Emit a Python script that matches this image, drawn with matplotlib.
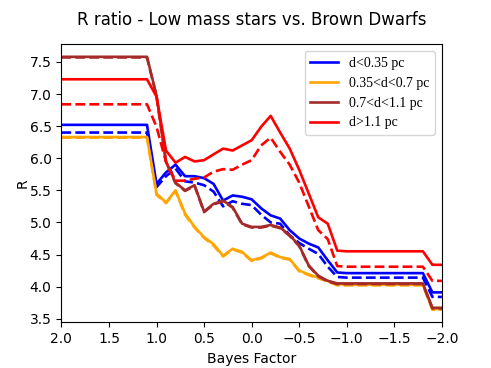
import numpy as np
import matplotlib
matplotlib.use("Agg")
import matplotlib.pyplot as plt

# Bayes factor grid (x values)
bayes = [2.0, 1.9, 1.8, 1.7, 1.6, 1.5, 1.4, 1.3, 1.2, 1.1,
         1.0, 0.9, 0.8, 0.7, 0.6, 0.5, 0.4, 0.3, 0.2, 0.1,
         0.0, -0.1, -0.2, -0.3, -0.4, -0.5, -0.6, -0.7, -0.8, -0.9,
         -1.0, -1.1, -1.2, -1.3, -1.4, -1.5, -1.6, -1.7, -1.8, -1.9, -2.0]

labels = ["d<0.35 pc", "0.35<d<0.7 pc", "0.7<d<1.1 pc", "d>1.1 pc"]
colors = ["blue", "orange", "brown", "red"]

blue_solid = [6.52, 6.52, 6.52, 6.52, 6.52, 6.52, 6.52, 6.52, 6.52, 6.52,
              5.60, 5.78, 5.90, 5.72, 5.72, 5.69, 5.60, 5.34, 5.42, 5.40,
              5.36, 5.22, 5.11, 5.06, 4.88, 4.75, 4.67, 4.61, 4.41, 4.22,
              4.21, 4.21, 4.21, 4.21, 4.21, 4.21, 4.21, 4.21, 4.21, 3.91, 3.91]
blue_dashed = [6.40, 6.40, 6.40, 6.40, 6.40, 6.40, 6.40, 6.40, 6.40, 6.40,
               5.55, 5.72, 5.84, 5.64, 5.62, 5.58, 5.48, 5.25, 5.33, 5.29,
               5.27, 5.12, 5.00, 4.98, 4.80, 4.68, 4.59, 4.51, 4.31, 4.15,
               4.14, 4.14, 4.14, 4.14, 4.14, 4.14, 4.14, 4.14, 4.14, 3.84, 3.84]
orange_solid = [6.33, 6.33, 6.33, 6.33, 6.33, 6.33, 6.33, 6.33, 6.33, 6.33,
                5.45, 5.31, 5.50, 5.14, 4.93, 4.77, 4.66, 4.48, 4.59, 4.54,
                4.41, 4.45, 4.53, 4.46, 4.43, 4.25, 4.19, 4.14, 4.09, 4.04,
                4.03, 4.03, 4.03, 4.03, 4.03, 4.03, 4.03, 4.03, 4.03, 3.65, 3.65]
orange_dashed = [6.32, 6.32, 6.32, 6.32, 6.32, 6.32, 6.32, 6.32, 6.32, 6.32,
                 5.43, 5.30, 5.49, 5.12, 4.92, 4.76, 4.64, 4.47, 4.58, 4.53,
                 4.40, 4.44, 4.52, 4.45, 4.42, 4.24, 4.18, 4.13, 4.08, 4.02,
                 4.02, 4.02, 4.02, 4.02, 4.02, 4.02, 4.02, 4.02, 4.02, 3.64, 3.64]
brown_solid = [7.58, 7.58, 7.58, 7.58, 7.58, 7.58, 7.58, 7.58, 7.58, 7.58,
               6.98, 5.95, 5.62, 5.50, 5.58, 5.17, 5.29, 5.34, 5.24, 4.98,
               4.93, 4.93, 4.96, 4.92, 4.80, 4.64, 4.33, 4.17, 4.09, 4.05,
               4.05, 4.05, 4.05, 4.05, 4.05, 4.05, 4.05, 4.05, 4.05, 3.67, 3.67]
brown_dashed = [7.57, 7.57, 7.57, 7.57, 7.57, 7.57, 7.57, 7.57, 7.57, 7.57,
                6.96, 5.94, 5.61, 5.49, 5.57, 5.16, 5.28, 5.33, 5.23, 4.97,
                4.92, 4.92, 4.95, 4.91, 4.79, 4.63, 4.32, 4.16, 4.08, 4.04,
                4.04, 4.04, 4.04, 4.04, 4.04, 4.04, 4.04, 4.04, 4.04, 3.66, 3.66]
red_solid = [7.23, 7.23, 7.23, 7.23, 7.23, 7.23, 7.23, 7.23, 7.23, 7.23,
             6.96, 6.12, 5.93, 6.02, 5.95, 5.97, 6.06, 6.15, 6.12, 6.20,
             6.28, 6.49, 6.66, 6.40, 6.15, 5.82, 5.45, 5.08, 4.98, 4.56,
             4.55, 4.55, 4.55, 4.55, 4.55, 4.55, 4.55, 4.55, 4.55, 4.34, 4.34]
red_dashed = [6.84, 6.84, 6.84, 6.84, 6.84, 6.84, 6.84, 6.84, 6.84, 6.84,
              6.49, 5.94, 5.65, 5.65, 5.68, 5.70, 5.79, 5.83, 5.82, 5.90,
              5.97, 6.20, 6.32, 6.10, 5.90, 5.62, 5.25, 4.88, 4.74, 4.32,
              4.31, 4.31, 4.31, 4.31, 4.31, 4.31, 4.31, 4.31, 4.31, 4.09, 4.09]

solid_series = [blue_solid, orange_solid, brown_solid, red_solid]
dashed_series = [blue_dashed, orange_dashed, brown_dashed, red_dashed]

fig = plt.figure(figsize=(4.91, 3.68), dpi=100)
ax = fig.add_axes([0.125, 0.124, 0.775, 0.756])

for s, d, c, lab in zip(solid_series, dashed_series, colors, labels):
    ax.plot(bayes, s, color=c, lw=1.9, label=lab)
    ax.plot(bayes, d, color=c, lw=1.9, ls="--")

ax.set_xlim(2.0, -2.0)
ax.set_xticks([2.0, 1.5, 1.0, 0.5, 0.0, -0.5, -1.0, -1.5, -2.0])
ax.set_title("R ratio - Low mass stars vs. Brown Dwarfs", fontsize=12, pad=14)
ax.set_xlabel("Bayes Factor")
ax.set_ylabel("R", labelpad=0)

handles, labs = ax.get_legend_handles_labels()
ax.legend(handles, labs, loc="upper right",
          prop={"family": "Liberation Serif", "size": 10})

fig.savefig("out.png", dpi=100)
